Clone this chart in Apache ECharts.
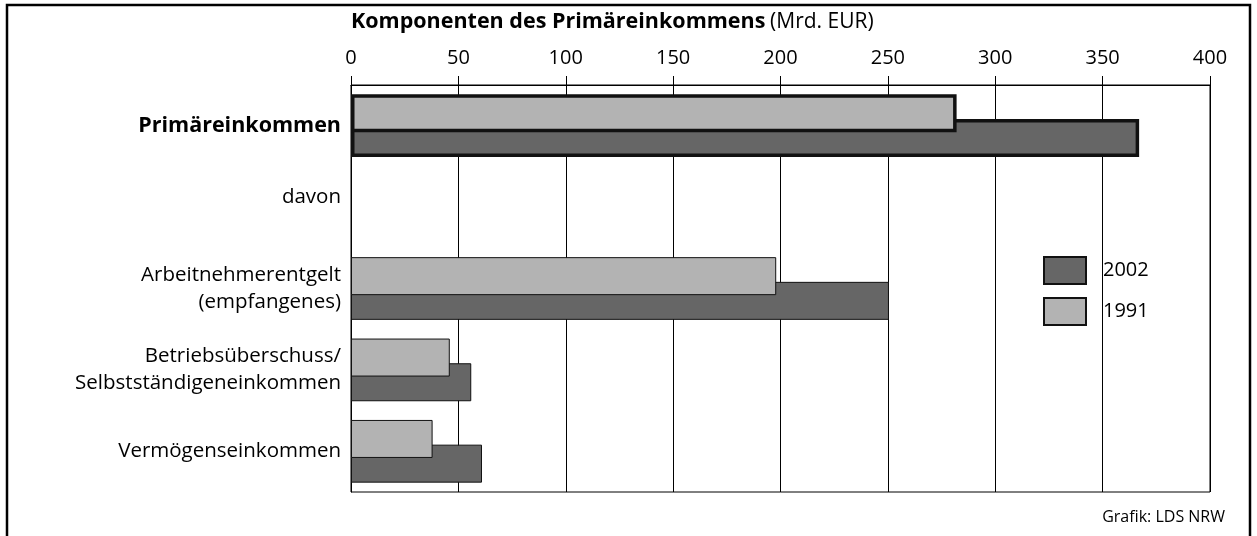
<!DOCTYPE html>
<html>
<head>
<meta charset="utf-8">
<script src="https://cdn.jsdelivr.net/npm/echarts@6/dist/echarts.min.js"></script>
<style>
  html, body { margin: 0; padding: 0; background: #fff; }
  #container { width: 1257px; height: 536px; }
</style>
</head>
<body>
<div id="container"></div>
<script>
const categories = [
  "Primäreinkommen",
  "davon",
  "Arbeitnehmerentgelt\n(empfangenes)",
  "Betriebsüberschuss/\nSelbstständigeneinkommen",
  "Vermögenseinkommen",
];
const values1991 = [282, null, 198, 46, 38];
const values2002 = [367, null, 250.5, 56, 61];
const xTicks = [0, 50, 100, 150, 200, 250, 300, 350, 400];

const FONT = "Open Sans";

const dom = document.getElementById("container");
const myChart = echarts.init(dom, null, { renderer: "canvas" });

// the total row gets a thick outline
function toItems(values) {
  return values.map((v, i) => ({
    value: v,
    itemStyle: { borderWidth: i === 0 ? 3.5 : 1 },
  }));
}

const option = {
  animation: false,
  backgroundColor: "#fff",
  textStyle: { fontFamily: FONT, color: "#000" },
  title: {
    text: "{b|Komponenten des Primäreinkommens} {n|(Mrd. EUR)}",
    left: 346,
    top: 6,
    textStyle: {
      fontWeight: "normal",
      rich: {
        b: { fontFamily: FONT, fontWeight: "bold", fontSize: 21.5, color: "#000" },
        n: { fontFamily: FONT, fontWeight: "normal", fontSize: 21, color: "#000" },
      },
    },
  },
  legend: {
    orient: "vertical",
    left: 1043,
    top: 256,
    padding: 0,
    icon: "rect",
    itemWidth: 42,
    itemHeight: 27,
    itemGap: 12,
    data: ["2002", "1991"],
    textStyle: { fontFamily: FONT, fontSize: 20, color: "#000", padding: [0, 0, 0, 12] },
  },
  grid: {
    left: 351,
    right: 47,
    top: 85,
    bottom: 44,
    show: true,
    borderColor: "#000",
    borderWidth: 1,
  },
  xAxis: {
    type: "value",
    position: "top",
    min: 0,
    max: 400,
    interval: 50,
    axisLine: { show: true, lineStyle: { color: "#000", width: 1 } },
    axisTick: { show: true, length: 9, lineStyle: { color: "#000" } },
    axisLabel: {
      margin: 17,
      fontFamily: FONT,
      fontSize: 20,
      color: "#000",
      formatter: (v) => (xTicks.includes(v) ? String(v) : ""),
    },
    splitLine: { show: true, lineStyle: { color: "#000", width: 1 } },
  },
  yAxis: {
    type: "category",
    inverse: true,
    data: categories,
    axisLine: { show: true, lineStyle: { color: "#000" } },
    axisTick: { show: false },
    axisLabel: {
      margin: 10,
      fontFamily: FONT,
      fontSize: 20.5,
      lineHeight: 27,
      color: "#000",
      align: "right",
      formatter: (v, i) => {
        if (i === 0) return "{b|" + v + "}";
        if (i === 1) return "{d|" + v + "}";
        return v;
      },
      rich: {
        b: { fontFamily: FONT, fontWeight: "bold", fontSize: 21.5, color: "#000" },
        d: { fontFamily: FONT, fontSize: 20.5, color: "#000", padding: [0, 0, 20, 0] },
      },
    },
  },
  series: [
    {
      name: "1991",
      type: "bar",
      data: toItems(values1991),
      barWidth: 38,
      barGap: "-35%",
      z: 3,
      itemStyle: { color: "#b3b3b3", borderColor: "#111", borderWidth: 1 },
    },
    {
      name: "2002",
      type: "bar",
      data: toItems(values2002),
      barWidth: 38,
      z: 2,
      itemStyle: { color: "#666666", borderColor: "#111", borderWidth: 1 },
    },
  ],
  graphic: [
    {
      type: "rect",
      shape: { x: 7, y: 5, width: 1243, height: 545 },
      style: { fill: null, stroke: "#000", lineWidth: 2.5 },
      silent: true,
    },
    {
      type: "text",
      right: 32,
      top: 509,
      style: { text: "Grafik: LDS NRW", font: "16px 'Open Sans'", fill: "#000" },
    },
  ],
};

myChart.setOption(option);
window.addEventListener("resize", myChart.resize);
</script>
</body>
</html>
